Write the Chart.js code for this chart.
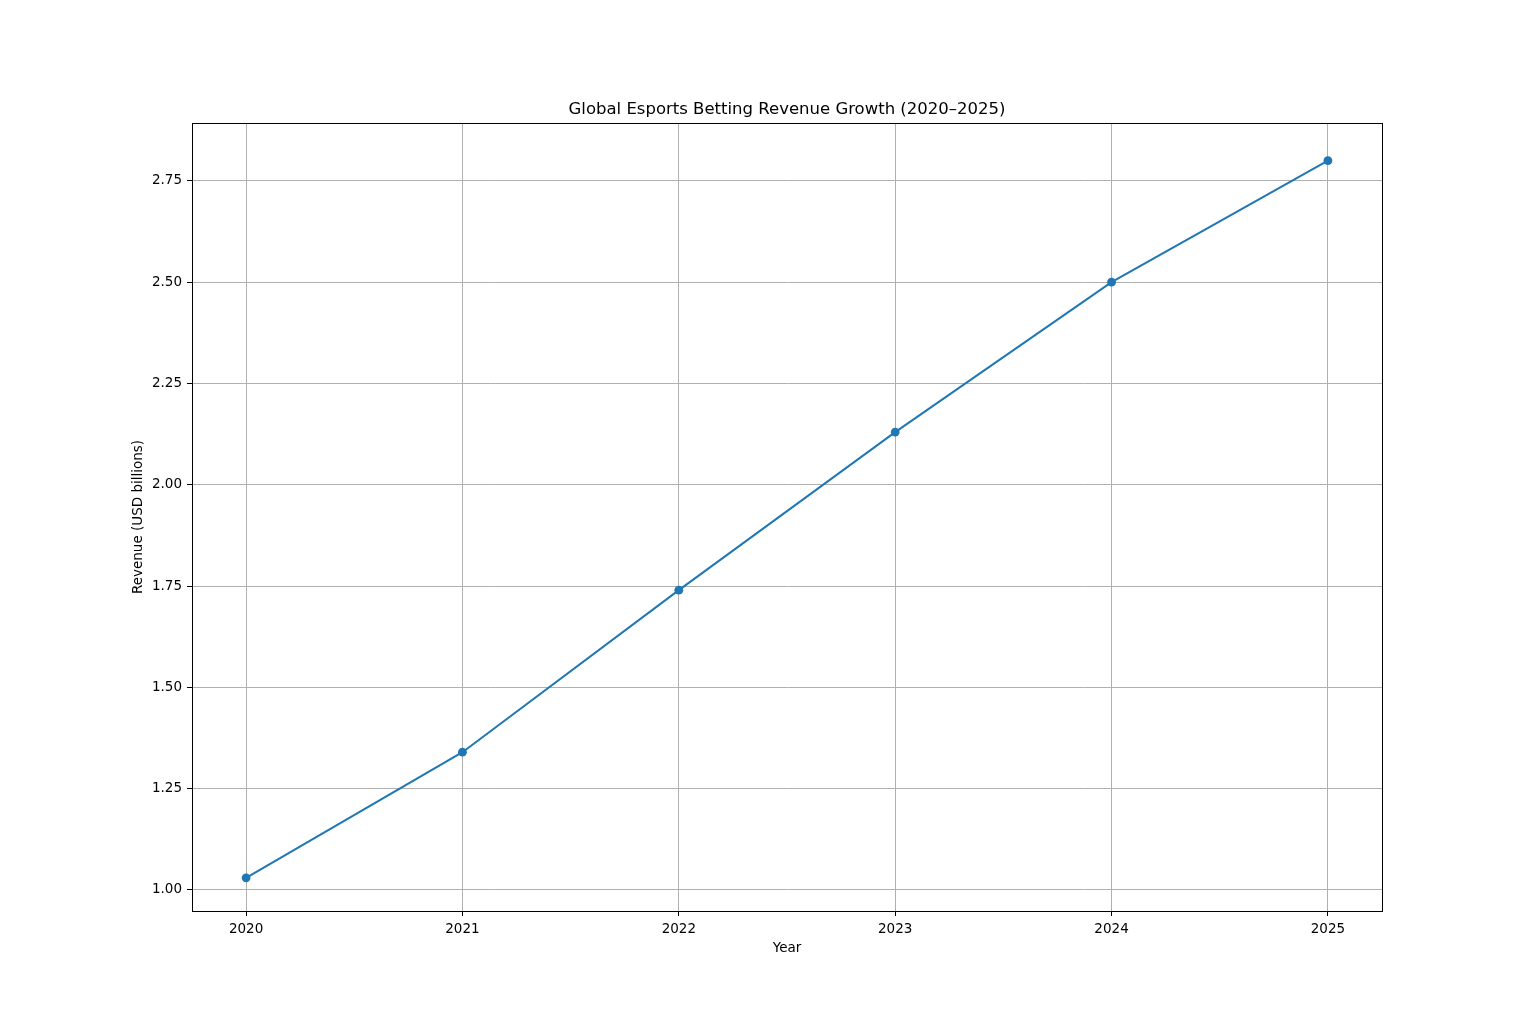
<!DOCTYPE html>
<html>
<head>
<meta charset="utf-8">
<script src="https://cdn.jsdelivr.net/npm/chart.js@4/dist/chart.umd.min.js"></script>
<style>
  html, body { margin: 0; padding: 0; background: #fff; }
  #wrap { width: 1536px; height: 1024px; }
</style>
</head>
<body>
<div id="wrap"><canvas id="line-chart" width="1536" height="1024"></canvas></div>
<script>
const years = [2020, 2021, 2022, 2023, 2024, 2025]
const revenue = [1.03, 1.34, 1.74, 2.13, 2.50, 2.80]
const yTicks = [1.00, 1.25, 1.50, 1.75, 2.00, 2.25, 2.50, 2.75]
const chartTitle = 'Global Esports Betting Revenue Growth (2020\u20132025)'

const font = 'DejaVu Sans'

// title centred over the plot area, plus the black box around it
const frame = {
    id: 'frame',
    afterDraw(chart) {
        const {ctx, chartArea: a} = chart
        ctx.save()
        ctx.strokeStyle = '#000'
        ctx.lineWidth = 1
        ctx.strokeRect(Math.round(a.left) + 0.5, Math.round(a.top) + 0.5,
            Math.round(a.right - a.left), Math.round(a.bottom - a.top))
        ctx.fillStyle = '#000'
        ctx.font = '16.5px "' + font + '"'
        ctx.textAlign = 'center'
        ctx.textBaseline = 'middle'
        ctx.fillText(chartTitle, (a.left + a.right) / 2, 110)
        ctx.restore()
    }
}

new Chart(document.getElementById('line-chart'), {
    type: 'line',
    data: {
        datasets: [{
            data: years.map((x, i) => ({x: x, y: revenue[i]})),
            borderColor: '#1f77b4',
            backgroundColor: '#1f77b4',
            borderWidth: 2,
            pointRadius: 4.4,
            pointBorderWidth: 0,
            pointHoverRadius: 4.4,
            tension: 0
        }]
    },
    options: {
        responsive: false,
        animation: false,
        layout: { padding: { top: 123, right: 154, left: 0, bottom: 0 } },
        plugins: {
            legend: { display: false },
            tooltip: { enabled: false },
            title: { display: false }
        },
        scales: {
            x: {
                type: 'linear',
                min: 2019.75,
                max: 2025.25,
                afterBuildTicks: s => { s.ticks = years.map(v => ({value: v})) },
                afterFit: s => { s.height = 113 },
                ticks: {
                    color: '#000',
                    font: { family: font, size: 13.5 },
                    padding: 5,
                    maxRotation: 0,
                    callback: v => String(v)
                },
                grid: { color: '#b0b0b0', lineWidth: 1, tickLength: 5, tickColor: '#000' },
                border: { color: '#000' },
                title: {
                    display: true,
                    text: 'Year',
                    color: '#000',
                    font: { family: font, size: 13.5 },
                    padding: { top: 0, bottom: 67 }
                }
            },
            y: {
                min: 0.948,
                max: 2.893,
                afterBuildTicks: s => { s.ticks = yTicks.map(v => ({value: v})) },
                afterFit: s => { s.width = 192 },
                ticks: {
                    color: '#000',
                    font: { family: font, size: 13.5 },
                    padding: 5,
                    callback: v => v.toFixed(2)
                },
                grid: { color: '#b0b0b0', lineWidth: 1, tickLength: 5, tickColor: '#000' },
                border: { color: '#000' },
                title: {
                    display: true,
                    text: 'Revenue (USD billions)',
                    color: '#000',
                    font: { family: font, size: 13.5 },
                    padding: { top: 130, bottom: 0 }
                }
            }
        }
    },
    plugins: [frame]
});
</script>
</body>
</html>
